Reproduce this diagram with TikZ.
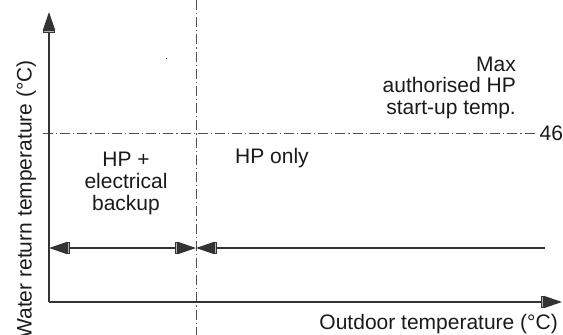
\documentclass[tikz,border=0pt]{standalone}
\usepackage{fontspec}
\setmainfont{Liberation Sans}
\usetikzlibrary{arrows.meta}
\definecolor{axiscol}{HTML}{333333}
\definecolor{dashcol}{HTML}{505050}
\definecolor{txtcol}{HTML}{1A1A1A}
\begin{document}
\begin{tikzpicture}[x=1pt,y=-1pt,
  axisline/.style={draw=axiscol,line width=1.3pt},
  dashdotline/.style={draw=dashcol,line width=0.9pt,dash pattern=on 10pt off 3pt on 1.2pt off 3pt},
  lbl/.style={inner sep=0pt,text=txtcol,font=\fontsize{21}{21.5}\selectfont},
  endtip/.style={-{Rectangle[length=3pt,width=12pt,fill=gray!60,sep=0pt]Triangle[length=18pt,width=12pt,sep=0pt]}},
  starttip/.style={{Triangle[length=18pt,width=12pt,sep=0pt]Rectangle[length=3pt,width=12pt,fill=gray!60,sep=0pt]}-},
  bothtip/.style={{Triangle[length=18pt,width=12pt,sep=0pt]Rectangle[length=3pt,width=12pt,fill=gray!60,sep=0pt]}-{Rectangle[length=3pt,width=12pt,fill=gray!60,sep=0pt]Triangle[length=18pt,width=12pt,sep=0pt]}}
]
\useasboundingbox (0,0) rectangle (563,335);

% coordinates
\coordinate (O) at (49,302);
\coordinate (ytop) at (49,12);
\coordinate (xend) at (562,302);
\coordinate (vtop) at (196,0);
\coordinate (vbot) at (196,335);
\coordinate (hleft) at (43,133);
\coordinate (hright) at (537,133);
\coordinate (aleft) at (49,248);
\coordinate (amid) at (196,248);
\coordinate (aright) at (545,248);

% dash-dot lines
\draw[dashdotline] (vtop) -- (vbot);
\draw[dashdotline] (hleft) -- (hright);

% axes
\draw[axisline,endtip] (O) -- (ytop);
\draw[axisline,endtip] (O) -- (xend);

% range arrows
\draw[axisline,bothtip] (aleft) -- (amid);
\draw[axisline,starttip] (amid) -- (aright);

% stray dot
\fill[axiscol] (165.5,57.5) rectangle (167,59);

% labels
\node[lbl,rotate=90,anchor=base east] (ylab) at (31.5,60) {Water return temperature (°C)};
\node[lbl,anchor=base east] (xlab) at (558,329.5) {Outdoor temperature (°C)};
\node[lbl,anchor=base west] (v46) at (539.5,140) {46};
\node[lbl,anchor=base east] (max1) at (516,71) {Max};
\node[lbl,anchor=base east] (max2) at (516,92.5) {authorised HP};
\node[lbl,anchor=base east] (max3) at (516,114) {start-up temp.};
\node[lbl,anchor=base] (hp1) at (126,166.7) {HP +};
\node[lbl,anchor=base] (hp2) at (126,188.5) {electrical};
\node[lbl,anchor=base] (hp3) at (126,210) {backup};
\node[lbl,anchor=base west] (hponly) at (235,163.3) {HP only};
\end{tikzpicture}
\end{document}
